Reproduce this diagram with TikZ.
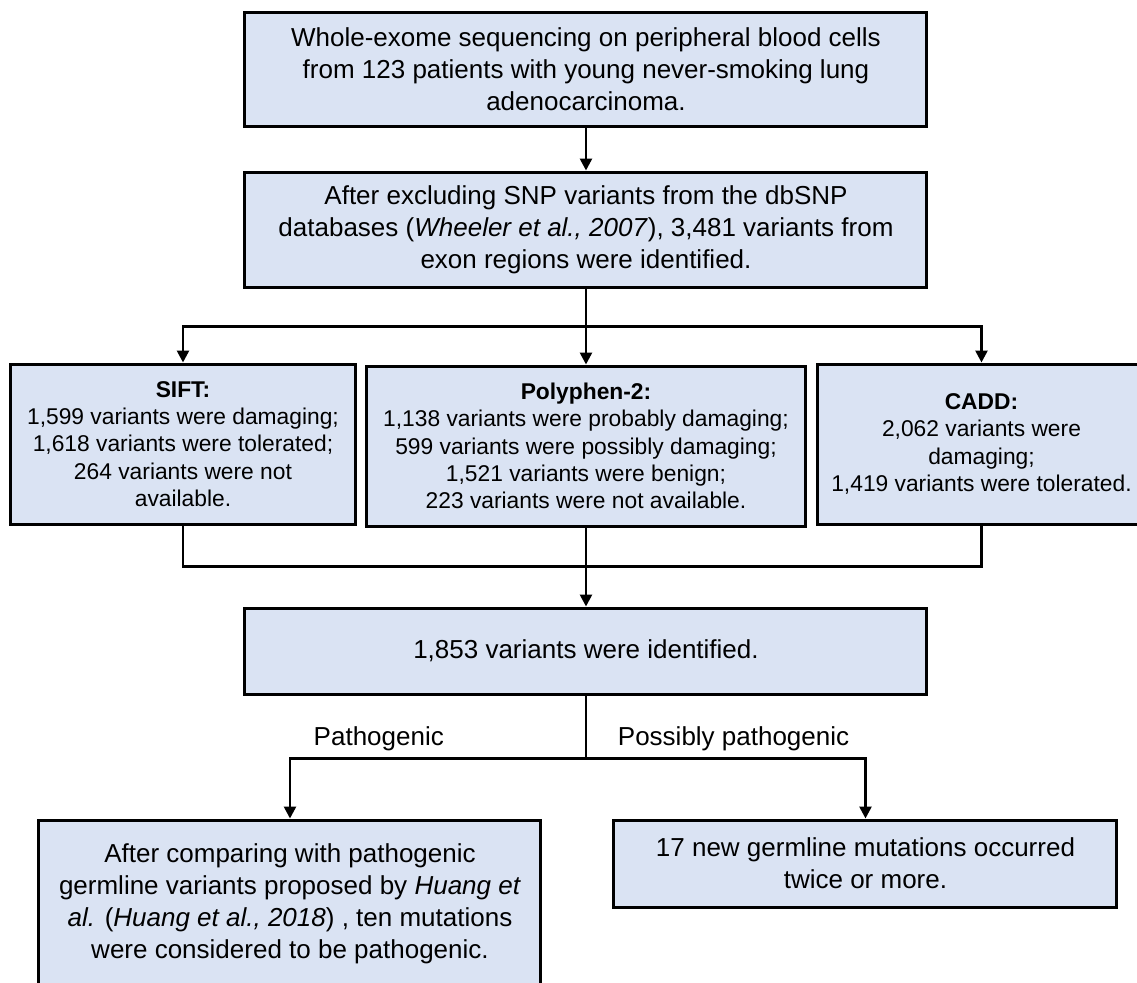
\documentclass[tikz,border=0pt]{standalone}
\usepackage{fontspec}
\setmainfont{Liberation Sans}
\usetikzlibrary{positioning,arrows.meta}
\definecolor{boxblue}{HTML}{DAE3F3}

\begin{document}
\begin{tikzpicture}[node distance=1.0cm,on grid,
		>={Triangle[width=6pt,length=6pt]},
		line width=1.3pt,
		font=\fontsize{13}{16}\selectfont,
		stage/.style={rectangle, draw=black, fill=boxblue, line width=1.5pt, align=center, minimum width=341pt},
		tool/.style={rectangle, draw=black, fill=boxblue, line width=1.5pt, align=center, minimum height=80pt, font=\fontsize{11.4}{13.65}\selectfont}
	]
	
	\clip (-293pt,34.5pt) rectangle (275.5pt,-456.5pt);
	
	\node[stage, minimum height=57pt] (s_0) at (0,0) {Whole-exome sequencing on peripheral blood cells\\from 123 patients with young never-smoking lung\\adenocarcinoma.};
	\node[stage, minimum height=57.5pt] (s_1) [below=80.25pt of s_0] {After excluding SNP variants from the dbSNP\\databases (\textit{Wheeler et al., 2007}), 3,481 variants from\\exon regions were identified.};
	
	\node[tool, minimum width=219.5pt] (t_1) [below=108.25pt of s_1] {\textbf{Polyphen-2:}\\1,138 variants were probably damaging;\\599 variants were possibly damaging;\\1,521 variants were benign;\\223 variants were not available.};
	\node[tool, minimum width=172.5pt] (t_0) [left=201.5pt of t_1, yshift=1pt] {\textbf{SIFT:}\\1,599 variants were damaging;\\1,618 variants were tolerated;\\264 variants were not\\available.};
	\node[tool, minimum width=164pt] (t_2) [right=197.75pt of t_1, yshift=1pt] {\textbf{CADD:}\\2,062 variants were\\damaging;\\1,419 variants were tolerated.};
	
	\node[stage, minimum height=43pt] (s_2) [below=102.5pt of t_1] {1,853 variants were identified.};
	
	\node[stage, minimum width=251pt, minimum height=84pt] (o_0) [below=126.5pt of s_2, xshift=-148pt] {After comparing with pathogenic\\germline variants proposed by \textit{Huang et}\\\textit{al.} (\textit{Huang et al., 2018}) , ten mutations\\were considered to be pathogenic.};
	\node[stage, minimum width=251.5pt, minimum height=43.5pt] (o_1) [below=106.25pt of s_2, xshift=139.75pt] {17 new germline mutations occurred\\twice or more.};
	
	\path (s_1.south) ++(0,-19pt) coordinate (c_0);
	\path (t_1.south) ++(0,-19.5pt) coordinate (c_1);
	\path (s_2.south) ++(0,-31.5pt) coordinate (c_2);
	
	\draw[->] (s_0.south) -- (s_1.north);
	\draw[->] (s_1.south) -- (t_1.north);
	\draw[->] (c_0) -| (t_0.north);
	\draw[->] (c_0) -| (t_2.north);
	
	\draw (t_0.south) |- (c_1);
	\draw (t_2.south) |- (c_1);
	\draw[->] (t_1.south) -- (s_2.north);
	
	\draw (s_2.south) -- (c_2);
	\draw[->] (c_2) -| (o_0.north) node[pos=0.35, above] {Pathogenic};
	\draw[->] (c_2) -| (o_1.north) node[pos=0.264, above] {Possibly pathogenic};
\end{tikzpicture}
\end{document}
